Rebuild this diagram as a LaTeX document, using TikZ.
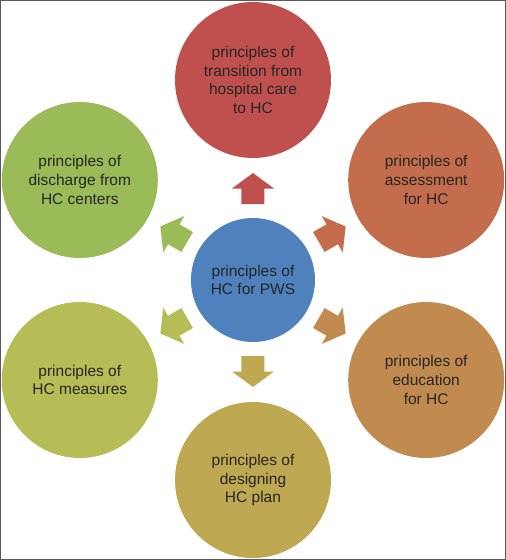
\documentclass[tikz,border=0pt]{standalone}
\usepackage{fontspec}
\setmainfont{Liberation Sans}
\definecolor{hcblue}{HTML}{4F81BD}
\definecolor{hcred}{HTML}{C0504D}
\definecolor{hcorange}{HTML}{C36D4D}
\definecolor{hcbrown}{HTML}{C18B4F}
\definecolor{hcolive}{HTML}{BEA851}
\definecolor{hclime}{HTML}{B6BD57}
\definecolor{hcgreen}{HTML}{9BBB59}
\definecolor{hctext}{HTML}{262626}
\tikzset{
principle/.style={
	  circle, inner sep=0pt, minimum size=156pt, align=center,
	    text=hctext, font=\fontsize{15.5}{18.7}\selectfont},
hub/.style={principle, minimum size=124pt, fill=hcblue}
}

\begin{document}
\begin{tikzpicture}
	\useasboundingbox (-253pt,-280pt) rectangle (253pt,280pt);
	\draw[black!65, line width=1pt] (-252.5pt,-279.5pt) rectangle (252.5pt,279.5pt);
	\node[hub] (hub) at (0,0) {principles of\\HC for PWS};
	\node[principle, fill=hcred] (transition) at (90:200pt) {principles of\\transition from\\hospital care\\to HC};
	\node[principle, fill=hcorange] (assessment) at (30:200pt) {principles of\\assessment\\for HC};
	\node[principle, fill=hcbrown] (education) at (-30:200pt) {principles of\\education\\for HC};
	\node[principle, fill=hcolive] (designing) at (-90:200pt) {principles of\\designing\\HC plan};
	\node[principle, fill=hclime] (measures) at (-150:200pt) {principles of\\HC measures};
	\node[principle, fill=hcgreen] (discharge) at (150:200pt) {principles of\\discharge from\\HC centers};
	% block arrows from the hub
	\foreach \ang/\col in {90/hcred, 30/hcorange, -30/hcbrown, -90/hcolive, -150/hclime, 150/hcgreen}
		\fill[\col, rotate=\ang] (76pt,-11.5pt) -- (91.5pt,-11.5pt) -- (91.5pt,-21pt) -- (107pt,0pt)
			-- (91.5pt,21pt) -- (91.5pt,11.5pt) -- (76pt,11.5pt) -- cycle;
\end{tikzpicture}
\end{document}
